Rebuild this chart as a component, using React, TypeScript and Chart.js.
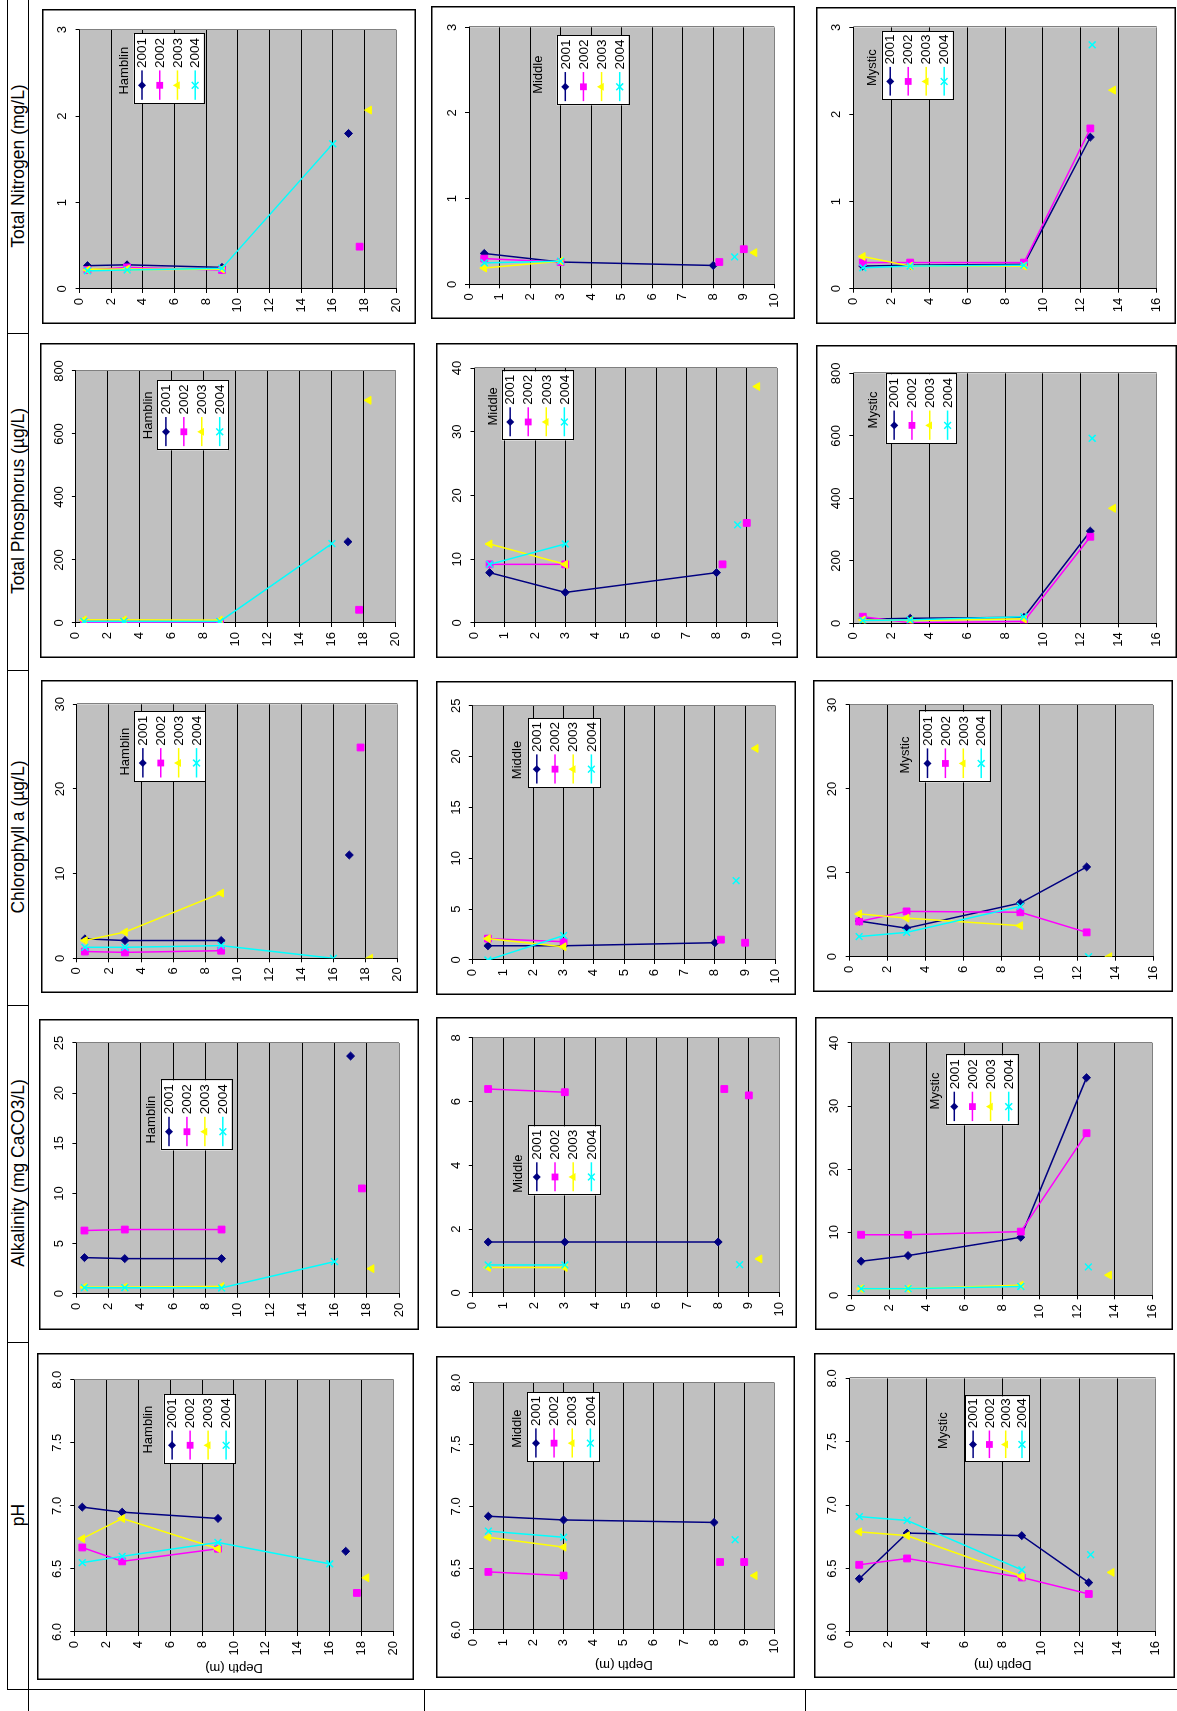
import React, { useEffect, useRef } from 'react';
import { Chart, registerables } from 'chart.js';

Chart.register(...registerables);

const FONT = 'Arial, "Liberation Sans", Helvetica, sans-serif';
Chart.defaults.font.family = FONT;

const PAGE_W = 1177;
const PAGE_H = 1711;

// ---------- series / labels ----------
const YEARS = ['2001', '2002', '2003', '2004'];
const SERIES_COLORS = ['#000080', '#FF00FF', '#FFFF00', '#00FFFF'];
const SERIES_MARKERS = ['rectRot', 'rect', 'triangle', 'crossRot'];
const MARKER_RADIUS = [4, 4.8, 4.6, 4.8];

const ROW_LABELS = [
  'Total Nitrogen (mg/L)',
  'Total Phosphorus (µg/L)',
  'Chlorophyll a (µg/L)',
  'Alkalinity (mg CaCO3/L)',
  'pH',
];
const LAKE_NAMES = ['Hamblin', 'Middle', 'Mystic'];

// ---------- depth axes (per lake) ----------
const DEPTH_MAX = [20, 10, 16];
const DEPTH_STEP = [2, 1, 2];

// ---------- value axes [min, max, step] per lake ----------
const TN_AXIS = [[0, 3, 1], [0, 3, 1], [0, 3, 1]];
const TP_AXIS = [[0, 800, 200], [0, 40, 10], [0, 800, 200]];
const CHL_AXIS = [[0, 30, 10], [0, 25, 5], [0, 30, 10]];
const ALK_AXIS = [[0, 25, 5], [0, 8, 2], [0, 40, 10]];
const PH_AXIS = [[6, 8, 0.5], [6, 8, 0.5], [6, 8, 0.5]];

// ---------- sample depths (m); null = break in the profile line ----------
const hamblinDepth2001 = [0.5, 3, 9, null, 17];
const hamblinDepth2002 = [0.5, 3, 9, null, 17.7];
const hamblinDepth2003 = [0.5, 3, 9, null, 18.3];
const hamblinDepth2004 = [0.5, 3, 9, 16];
const middleDepth2001 = [0.5, 3, 8];
const middleDepth2002 = [0.5, 3, null, 8.2, null, 9];
const middleDepth2003 = [0.5, 3, null, 9.35];
const middleDepth2004 = [0.5, 3, null, 8.7];
const mysticDepth2001 = [0.5, 3, 9, 12.5];
const mysticDepth2002 = [0.5, 3, 9, 12.5];
const mysticDepth2003 = [0.5, 3, 9, null, 13.7];
const mysticDepth2004 = [0.5, 3, 9, null, 12.6];

// ---------- Total Nitrogen (mg/L) ----------
const tnHamblin2001 = [0.27, 0.28, 0.25, null, 1.8];
const tnHamblin2002 = [0.22, 0.25, 0.22, null, 0.49];
const tnHamblin2003 = [0.22, 0.23, 0.23, null, 2.07];
const tnHamblin2004 = [0.21, 0.22, 0.24, 1.68];
const tnMiddle2001 = [0.36, 0.26, 0.22];
const tnMiddle2002 = [0.3, 0.26, null, 0.26, null, 0.41];
const tnMiddle2003 = [0.19, 0.27, null, 0.37];
const tnMiddle2004 = [0.25, 0.27, null, 0.32];
const tnMystic2001 = [0.26, 0.27, 0.28, 1.74];
const tnMystic2002 = [0.3, 0.3, 0.3, 1.84];
const tnMystic2003 = [0.37, 0.26, 0.26, null, 2.28];
const tnMystic2004 = [0.24, 0.26, 0.27, null, 2.8];

// ---------- Total Phosphorus (µg/L) ----------
const tpHamblin2001 = [5, 5, 4, null, 258];
const tpHamblin2002 = [2, 3, 3, null, 42];
const tpHamblin2003 = [10, 10, 9, null, 707];
const tpHamblin2004 = [5, 5, 5, 252];
const tpMiddle2001 = [7.9, 4.8, 7.9];
const tpMiddle2002 = [9.2, 9.2, null, 9.2, null, 15.7];
const tpMiddle2003 = [12.4, 9.2, null, 37.1];
const tpMiddle2004 = [9.2, 12.4, null, 15.4];
const tpMystic2001 = [13, 16, 19, 295];
const tpMystic2002 = [21, 2, 6, 277];
const tpMystic2003 = [11, 9, 14, null, 368];
const tpMystic2004 = [9, 11, 21, null, 592];

// ---------- Chlorophyll a (µg/L) ----------
const chlHamblin2001 = [2.3, 2.1, 2.1, null, 12.2];
const chlHamblin2002 = [0.8, 0.7, 0.9, null, 24.9];
const chlHamblin2003 = [2.1, 3.1, 7.7, null, 0.0];
const chlHamblin2004 = [1.3, 1.3, 1.5, 0.0];
const chlMiddle2001 = [1.4, 1.4, 1.7];
const chlMiddle2002 = [2.1, 1.8, null, 2.0, null, 1.7];
const chlMiddle2003 = [2.1, 1.3, null, 20.8];
const chlMiddle2004 = [0.0, 2.4, null, 7.8];
const chlMystic2001 = [4.25, 3.4, 6.4, 10.7];
const chlMystic2002 = [4.2, 5.4, 5.3, 2.9];
const chlMystic2003 = [5.1, 4.6, 3.7, null, 0.0];
const chlMystic2004 = [2.4, 2.9, 6.0, null, 0.0];

// ---------- Alkalinity (mg CaCO3/L) ----------
const alkHamblin2001 = [3.6, 3.5, 3.5, null, 23.7];
const alkHamblin2002 = [6.3, 6.4, 6.4, null, 10.5];
const alkHamblin2003 = [0.66, 0.66, 0.73, null, 2.5];
const alkHamblin2004 = [0.6, 0.6, 0.57, 3.2];
const alkMiddle2001 = [1.6, 1.6, 1.6];
const alkMiddle2002 = [6.4, 6.3, null, 6.4, null, 6.2];
const alkMiddle2003 = [0.8, 0.8, null, 1.07];
const alkMiddle2004 = [0.88, 0.88, null, 0.89];
const alkMystic2001 = [5.4, 6.3, 9.2, 34.5];
const alkMystic2002 = [9.6, 9.6, 10.1, 25.7];
const alkMystic2003 = [1.05, 1.05, 1.6, null, 3.2];
const alkMystic2004 = [1.05, 1.05, 1.4, null, 4.5];

// ---------- pH ----------
const phHamblin2001 = [6.99, 6.95, 6.9, null, 6.64];
const phHamblin2002 = [6.67, 6.56, 6.66, null, 6.31];
const phHamblin2003 = [6.74, 6.9, 6.66, null, 6.43];
const phHamblin2004 = [6.55, 6.6, 6.71, 6.54];
const phMiddle2001 = [6.92, 6.89, 6.87];
const phMiddle2002 = [6.47, 6.44, null, 6.55, null, 6.55];
const phMiddle2003 = [6.75, 6.67, null, 6.44];
const phMiddle2004 = [6.8, 6.75, null, 6.73];
const phMystic2001 = [6.42, 6.78, 6.76, 6.39];
const phMystic2002 = [6.53, 6.58, 6.43, 6.3];
const phMystic2003 = [6.79, 6.76, 6.44, null, 6.47];
const phMystic2004 = [6.91, 6.88, 6.49, null, 6.61];

// ---------- tables built from the arrays above ----------
const DEPTHS = [
  [hamblinDepth2001, hamblinDepth2002, hamblinDepth2003, hamblinDepth2004],
  [middleDepth2001, middleDepth2002, middleDepth2003, middleDepth2004],
  [mysticDepth2001, mysticDepth2002, mysticDepth2003, mysticDepth2004],
];
const VALUES = [
  [
    [tnHamblin2001, tnHamblin2002, tnHamblin2003, tnHamblin2004],
    [tnMiddle2001, tnMiddle2002, tnMiddle2003, tnMiddle2004],
    [tnMystic2001, tnMystic2002, tnMystic2003, tnMystic2004],
  ],
  [
    [tpHamblin2001, tpHamblin2002, tpHamblin2003, tpHamblin2004],
    [tpMiddle2001, tpMiddle2002, tpMiddle2003, tpMiddle2004],
    [tpMystic2001, tpMystic2002, tpMystic2003, tpMystic2004],
  ],
  [
    [chlHamblin2001, chlHamblin2002, chlHamblin2003, chlHamblin2004],
    [chlMiddle2001, chlMiddle2002, chlMiddle2003, chlMiddle2004],
    [chlMystic2001, chlMystic2002, chlMystic2003, chlMystic2004],
  ],
  [
    [alkHamblin2001, alkHamblin2002, alkHamblin2003, alkHamblin2004],
    [alkMiddle2001, alkMiddle2002, alkMiddle2003, alkMiddle2004],
    [alkMystic2001, alkMystic2002, alkMystic2003, alkMystic2004],
  ],
  [
    [phHamblin2001, phHamblin2002, phHamblin2003, phHamblin2004],
    [phMiddle2001, phMiddle2002, phMiddle2003, phMiddle2004],
    [phMystic2001, phMystic2002, phMystic2003, phMystic2004],
  ],
];
const AXES = [TN_AXIS, TP_AXIS, CHL_AXIS, ALK_AXIS, PH_AXIS];

// ---------- layout (page coordinates, as seen on the rotated page) ----------
type Geo = { box: number[]; plot: number[]; legend: number[]; title: number[] };
const GEOMETRY: Geo[][] = [
  [
    { box: [41.7, 9.3, 415.7, 324], plot: [79.3, 30, 395.7, 289.3], legend: [133.3, 34.3, 203.3, 104.3], title: [124.3, 71] },
    { box: [431, 6, 795, 319.3], plot: [469, 27.3, 774.3, 284.3], legend: [556.7, 36, 628.3, 105.3], title: [538.3, 74.7] },
    { box: [816, 7.3, 1176, 324], plot: [853.3, 27.7, 1156.7, 289], legend: [881.7, 31.7, 952.7, 100], title: [872.8, 68] },
  ],
  [
    { box: [40, 342.7, 415.4, 657.3], plot: [75.9, 370.7, 395.9, 622.7], legend: [157.4, 380.7, 228.2, 450], title: [148.7, 415] },
    { box: [435.9, 343.3, 797.4, 658.3], plot: [474.4, 368.3, 776.9, 623.3], legend: [501.5, 371.7, 572.8, 440.7], title: [493, 406.7] },
    { box: [816, 345, 1176.7, 658.3], plot: [853.3, 373.3, 1156.7, 623.3], legend: [885.7, 374.3, 956, 444], title: [873, 410] },
  ],
  [
    { box: [41, 680, 418, 993.3], plot: [76.9, 704.3, 397.4, 958.3], legend: [134.4, 711.7, 205, 781.7], title: [125, 751.7] },
    { box: [436, 681, 796, 995], plot: [472.8, 705.7, 775.4, 960], legend: [528.2, 718.3, 600, 787.7], title: [517, 760] },
    { box: [813.3, 680, 1173.3, 992.3], plot: [850, 705, 1153.3, 956.7], legend: [919.3, 711.7, 990, 782.3], title: [905.3, 755] },
  ],
  [
    { box: [38.5, 1019.3, 418, 1330], plot: [75.9, 1043.3, 398.5, 1294], legend: [160, 1080.7, 230.8, 1150.7], title: [151, 1120] },
    { box: [436, 1017.3, 797.4, 1328.3], plot: [472.8, 1038.3, 779.5, 1293.3], legend: [528.2, 1126.7, 600, 1195.7], title: [518, 1174] },
    { box: [815, 1016.7, 1173, 1330], plot: [851.7, 1042.7, 1152.3, 1295], legend: [945.7, 1055, 1017.3, 1125], title: [935.8, 1090.7] },
  ],
  [
    { box: [36.7, 1353.3, 414, 1680], plot: [74, 1380, 393.3, 1632.3], legend: [163.3, 1395, 234.3, 1464], title: [148.3, 1430] },
    { box: [436, 1356, 795, 1678.3], plot: [473.3, 1382.7, 774.3, 1630], legend: [527.3, 1392.3, 599, 1461.7], title: [517.7, 1428.7] },
    { box: [814.3, 1353.3, 1175, 1678.3], plot: [850, 1378.7, 1156, 1632.3], legend: [965.7, 1396.7, 1030, 1462.3], title: [944, 1431] },
  ],
];
const DEPTH_TITLE_Y = [1668, 1665, 1665];
const ROW_CENTERS = [166, 501, 837, 1173, 1515];

function drawMarker(ctx: CanvasRenderingContext2D, style: string, x: number, y: number, r: number, color: string) {
  ctx.save();
  ctx.fillStyle = color;
  ctx.strokeStyle = color;
  ctx.lineWidth = 1.5;
  ctx.beginPath();
  if (style === 'rectRot') {
    ctx.moveTo(x - r, y);
    ctx.lineTo(x, y - r);
    ctx.lineTo(x + r, y);
    ctx.lineTo(x, y + r);
    ctx.closePath();
    ctx.fill();
  } else if (style === 'rect') {
    const s = r * Math.SQRT1_2;
    ctx.rect(x - s, y - s, 2 * s, 2 * s);
    ctx.fill();
  } else if (style === 'triangle') {
    for (let k = 0; k < 3; k++) {
      const a = (k * 2 * Math.PI) / 3;
      const px = x + Math.sin(a) * r;
      const py = y - Math.cos(a) * r;
      if (k === 0) ctx.moveTo(px, py);
      else ctx.lineTo(px, py);
    }
    ctx.closePath();
    ctx.fill();
  } else {
    const s = r * Math.SQRT1_2;
    ctx.moveTo(x - s, y - s);
    ctx.lineTo(x + s, y + s);
    ctx.moveTo(x + s, y - s);
    ctx.lineTo(x - s, y + s);
    ctx.stroke();
  }
  ctx.restore();
}

function SmallChart({ row, col }: { row: number; col: number }) {
  const ref = useRef<HTMLCanvasElement>(null);
  const g = GEOMETRY[row][col];
  const [x0, y0, x1, y1] = g.box;
  const W = Math.round(y1 - y0);
  const H = Math.round(x1 - x0);
  const Y1 = y0 + W;

  useEffect(() => {
    const canvas = ref.current;
    if (!canvas) return;
    const [px0, py0, px1, py1] = g.plot;
    const areaLeft = Y1 - py1;
    const areaRight = Y1 - py0;
    const areaTop = px0 - x0;
    const areaBottom = px1 - x0;
    const depths = DEPTHS[col];
    const values = VALUES[row][col];
    const [vmin, vmax, vstep] = AXES[row][col];
    const dmax = DEPTH_MAX[col];
    const isPH = row === 4;

    const datasets = YEARS.map((yr, i) => ({
      label: yr,
      data: depths[i].map((d, j) => ({ x: values[i][j], y: d })),
      showLine: true,
      spanGaps: false,
      borderColor: SERIES_COLORS[i],
      backgroundColor: SERIES_COLORS[i],
      borderWidth: 1.5,
      pointStyle: SERIES_MARKERS[i],
      pointRadius: MARKER_RADIUS[i],
      pointHoverRadius: MARKER_RADIUS[i],
      pointBorderColor: SERIES_COLORS[i],
      pointBackgroundColor: SERIES_COLORS[i],
      pointBorderWidth: i === 3 ? 1.5 : 1,
      order: 3 - i,
    }));

    const deco = {
      id: 'deco',
      beforeDraw(chart: any) {
        const ctx = chart.ctx as CanvasRenderingContext2D;
        const a = chart.chartArea;
        ctx.save();
        ctx.fillStyle = '#FFFFFF';
        ctx.fillRect(0, 0, W, H);
        ctx.fillStyle = '#C0C0C0';
        ctx.fillRect(a.left, a.top, a.right - a.left, a.bottom - a.top);
        ctx.strokeStyle = '#000000';
        ctx.lineWidth = 1.5;
        ctx.strokeRect(0.75, 0.75, W - 1.5, H - 1.5);
        ctx.restore();
      },
      beforeDatasetsDraw(chart: any) {
        const ctx = chart.ctx as CanvasRenderingContext2D;
        const a = chart.chartArea;
        ctx.save();
        ctx.strokeStyle = '#808080';
        ctx.lineWidth = 1;
        ctx.beginPath();
        ctx.moveTo(Math.round(a.right) + 0.5, a.top);
        ctx.lineTo(Math.round(a.right) + 0.5, a.bottom);
        ctx.stroke();
        ctx.restore();
      },
      afterDraw(chart: any) {
        const ctx = chart.ctx as CanvasRenderingContext2D;
        const a = chart.chartArea;
        // legend box
        const [lx0, ly0, lx1, ly1] = g.legend;
        const L = Y1 - ly1;
        const R = Y1 - ly0;
        const T = lx0 - x0;
        const B = lx1 - x0;
        const w = R - L;
        const h = B - T;
        ctx.save();
        ctx.fillStyle = '#FFFFFF';
        ctx.fillRect(L, T, w, h);
        ctx.strokeStyle = '#000000';
        ctx.lineWidth = 1;
        ctx.strokeRect(Math.round(L) + 0.5, Math.round(T) + 0.5, Math.round(w), Math.round(h));
        const pad = h * 0.12;
        YEARS.forEach((yr, i) => {
          const cy = T + pad + (i * (h - 2 * pad)) / 3;
          ctx.strokeStyle = SERIES_COLORS[i];
          ctx.lineWidth = 1.5;
          ctx.beginPath();
          ctx.moveTo(L + w * 0.06, cy);
          ctx.lineTo(L + w * 0.48, cy);
          ctx.stroke();
          drawMarker(ctx, SERIES_MARKERS[i], L + w * 0.267, cy, MARKER_RADIUS[i], SERIES_COLORS[i]);
          ctx.fillStyle = '#000000';
          ctx.font = `13.5px ${FONT}`;
          ctx.textAlign = 'left';
          ctx.textBaseline = 'middle';
          ctx.fillText(yr, L + w * 0.515, cy + 0.5);
        });
        // lake name above the legend
        const [tx, ty] = g.title;
        ctx.fillStyle = '#000000';
        ctx.font = `13px ${FONT}`;
        ctx.textAlign = 'center';
        ctx.textBaseline = 'middle';
        ctx.fillText(LAKE_NAMES[col], Y1 - ty, tx - x0);
        // depth title (pH row only)
        if (isPH) {
          ctx.translate(Y1 - DEPTH_TITLE_Y[col], (a.top + a.bottom) / 2);
          ctx.rotate(-Math.PI / 2);
          ctx.font = `13px ${FONT}`;
          ctx.fillText('Depth (m)', 0, 0);
        }
        ctx.restore();
      },
    };

    const chart = new Chart(canvas, {
      type: 'scatter',
      data: { datasets } as any,
      options: {
        responsive: false,
        animation: false,
        events: [],
        layout: { padding: { left: 0, top: 0, right: W - areaRight, bottom: H - areaBottom } },
        plugins: { legend: { display: false }, tooltip: { enabled: false } },
        scales: {
          x: {
            type: 'linear',
            position: 'top',
            min: vmin,
            max: vmax,
            ticks: {
              stepSize: vstep,
              color: '#000000',
              font: { size: 13, family: FONT },
              padding: 5,
              maxRotation: 0,
              autoSkip: false,
              callback: (v: any) => (isPH ? Number(v).toFixed(1) : String(v)),
            },
            grid: { display: true, drawOnChartArea: false, drawTicks: true, tickLength: 4, color: '#000000' },
            border: { display: true, color: '#000000', width: 1 },
            afterFit: (s: any) => {
              s.height = areaTop;
            },
          },
          y: {
            type: 'linear',
            position: 'left',
            reverse: true,
            min: 0,
            max: dmax,
            ticks: {
              stepSize: DEPTH_STEP[col],
              color: '#000000',
              font: { size: 13, family: FONT },
              padding: 5,
              autoSkip: false,
            },
            grid: {
              display: true,
              drawOnChartArea: true,
              drawTicks: true,
              tickLength: 4,
              tickColor: '#000000',
              lineWidth: 1,
              color: (c: any) => (c.tick && c.tick.value === dmax ? '#808080' : '#000000'),
            },
            border: { display: true, color: '#000000', width: 1 },
            afterFit: (s: any) => {
              s.width = areaLeft;
            },
          },
        },
      } as any,
      plugins: [deco],
    });
    return () => chart.destroy();
  }, []);

  return (
    <canvas
      ref={ref}
      width={W}
      height={H}
      style={{
        position: 'absolute',
        left: x0,
        top: Y1,
        width: W,
        height: H,
        transformOrigin: '0 0',
        transform: 'rotate(-90deg)',
      }}
    />
  );
}

const LINE = '#000000';

export default function App() {
  const lines: React.ReactNode[] = [];
  lines.push(<div key="v1" style={{ position: 'absolute', left: 7, top: 0, width: 1, height: 1689, background: LINE }} />);
  lines.push(<div key="v2" style={{ position: 'absolute', left: 28, top: 0, width: 1, height: PAGE_H, background: LINE }} />);
  [333, 670, 1005, 1342].forEach((y, i) =>
    lines.push(<div key={'h' + i} style={{ position: 'absolute', left: 7, top: y, width: 22, height: 1, background: LINE }} />)
  );
  lines.push(<div key="hb" style={{ position: 'absolute', left: 7, top: 1689, width: PAGE_W - 7, height: 1, background: LINE }} />);
  [424, 805].forEach((x, i) =>
    lines.push(<div key={'vb' + i} style={{ position: 'absolute', left: x, top: 1689, width: 1, height: PAGE_H - 1689, background: LINE }} />)
  );

  return (
    <div
      style={{
        position: 'absolute',
        left: 0,
        top: 0,
        width: PAGE_W,
        height: PAGE_H,
        overflow: 'hidden',
        background: '#FFFFFF',
        fontFamily: FONT,
      }}
    >
      {lines}
      {ROW_LABELS.map((label, r) => (
        <div
          key={label}
          style={{
            position: 'absolute',
            left: 18,
            top: ROW_CENTERS[r],
            transform: 'translate(-50%, -50%) rotate(-90deg)',
            whiteSpace: 'nowrap',
            fontSize: 17.5,
            color: '#000',
            lineHeight: '20px',
          }}
        >
          {label}
        </div>
      ))}
      {GEOMETRY.map((rowGeo, r) => rowGeo.map((_, c) => <SmallChart key={r + '-' + c} row={r} col={c} />))}
    </div>
  );
}
